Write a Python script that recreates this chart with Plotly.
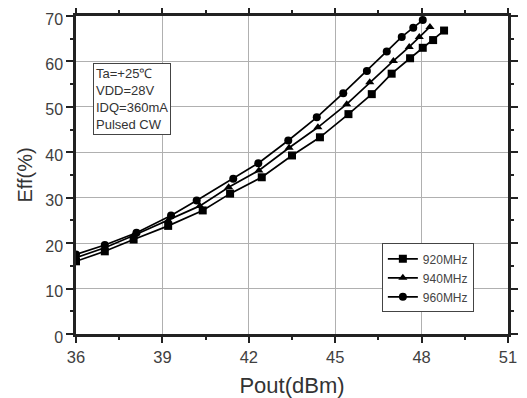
import plotly.graph_objects as go

# Data
x_920 = [36.0, 37.0, 38.0, 39.2, 40.4, 41.35, 42.45, 43.5, 44.47, 45.46, 46.27, 46.96, 47.6, 48.04, 48.4, 48.78]
y_920 = [16.0, 18.2, 20.8, 23.8, 27.2, 30.9, 34.5, 39.3, 43.3, 48.4, 52.8, 57.3, 60.7, 63.0, 64.7, 66.8]

x_940 = [36.0, 37.0, 38.0, 39.2, 40.3, 41.3, 42.35, 43.4, 44.4, 45.4, 46.2, 47.02, 47.57, 47.92, 48.29]
y_940 = [16.8, 19.0, 21.7, 25.0, 28.2, 32.3, 36.0, 41.0, 45.5, 50.6, 55.4, 60.1, 63.2, 65.4, 67.6]

x_960 = [36.0, 37.0, 38.1, 39.3, 40.19, 41.46, 42.33, 43.37, 44.36, 45.28, 46.1, 46.79, 47.31, 47.71, 48.04]
y_960 = [17.5, 19.6, 22.3, 26.1, 29.4, 34.2, 37.6, 42.6, 47.7, 53.0, 57.9, 62.2, 65.4, 67.4, 69.1]

series = [
    ("920MHz", x_920, y_920, "square"),
    ("940MHz", x_940, y_940, "triangle-up"),
    ("960MHz", x_960, y_960, "circle"),
]

x_ticks = [36, 39, 42, 45, 48, 51]
y_ticks = [0, 10, 20, 30, 40, 50, 60, 70]

fig = go.Figure()
for name, xs, ys, sym in series:
    fig.add_trace(go.Scatter(
        x=xs, y=ys, name=name, mode="lines+markers",
        line=dict(color="black", width=1.7),
        marker=dict(symbol=sym, size=8, color="black"),
    ))

font_family = "Arial, Liberation Sans, sans-serif"

# page renders the figure with an 8px body margin, so the figure is 8px smaller
fig.update_layout(
    width=519, height=390,
    margin=dict(l=68, r=19, t=8, b=64),
    paper_bgcolor="white", plot_bgcolor="white",
    font=dict(family=font_family, color="#404040", size=16),
    showlegend=True,
    legend=dict(
        x=0.708, y=0.285, xanchor="left", yanchor="top",
        bgcolor="white", bordercolor="#444444", borderwidth=1,
        font=dict(size=12, color="#444444"),
        itemwidth=30, tracegroupgap=0,
    ),
    xaxis=dict(
        range=[36, 51], tickvals=x_ticks, ticktext=[str(v) for v in x_ticks],
        automargin=False, ticklabeloverflow="allow",
        tickfont=dict(size=16.5, color="#404040"),
        showgrid=True, gridcolor="#b0b0b0", gridwidth=1,
        showline=True, linecolor="#222222", linewidth=2.5, mirror="ticks",
        ticks="outside", ticklen=6, tickwidth=1.5, tickcolor="#222222",
        minor=dict(ticks="outside", ticklen=3, tickwidth=1.5, dtick=1.5, tick0=36, showgrid=False, tickcolor="#222222"),
        title=dict(text="Pout(dBm)", font=dict(size=22, color="#333333"), standoff=15),
        zeroline=False,
    ),
    yaxis=dict(
        range=[0, 70], tickvals=y_ticks, ticktext=[str(v) for v in y_ticks],
        automargin=False, ticklabeloverflow="allow", ticklabelshift=3,
        tickfont=dict(size=16, color="#404040"),
        showgrid=True, gridcolor="#b0b0b0", gridwidth=1,
        showline=True, linecolor="#222222", linewidth=2.5, mirror="ticks",
        ticks="outside", ticklen=7, tickwidth=1.5, tickcolor="#222222",
        minor=dict(ticks="outside", ticklen=3, tickwidth=1.5, dtick=5, tick0=0, showgrid=False, tickcolor="#222222"),
        title=dict(text="Eff(%)", font=dict(size=20, color="#333333"), standoff=8),
        zeroline=False,
    ),
)

fig.add_annotation(
    xref="paper", yref="paper", x=0.04, y=0.853, xanchor="left", yanchor="top",
    text="Ta=+25℃<br>VDD=28V<br>IDQ=360mA<br>Pulsed CW",
    showarrow=False, align="left",
    font=dict(size=13, color="#333333", family=font_family),
    bgcolor="white", bordercolor="#444444", borderwidth=1, borderpad=2,
)

fig.write_html("out.html")
